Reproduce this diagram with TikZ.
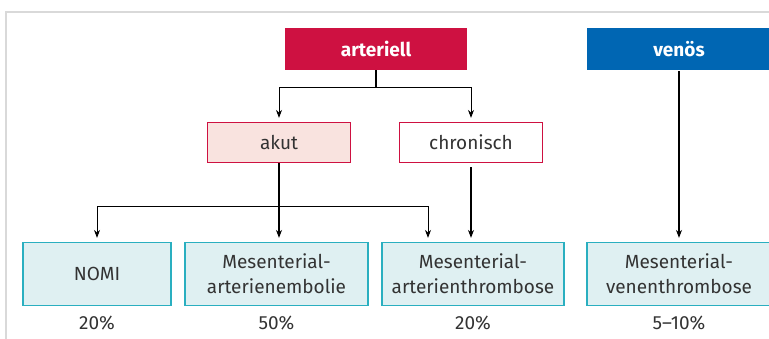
\documentclass[tikz,border=0pt]{standalone}
\usepackage{fontspec}
\setmainfont{Fira Sans}
\usetikzlibrary{positioning, arrows.meta}

\definecolor{artred}{HTML}{CE1141}
\definecolor{venblue}{HTML}{0066B3}
\definecolor{akutfill}{HTML}{F9E3DF}
\definecolor{formfill}{HTML}{DFF0F2}
\definecolor{formline}{HTML}{2AAFC0}
\definecolor{framegray}{HTML}{D9D9D9}
\definecolor{textgray}{HTML}{333333}

\tikzset{
  head/.style={fill=#1, text=white, font=\fontsize{19}{22}\selectfont\bfseries,
    minimum width=182pt, minimum height=42pt, inner sep=0pt},
  phase/.style={draw=artred, line width=1.2pt, text=textgray, font=\fontsize{19}{22}\selectfont,
    minimum width=143pt, minimum height=40pt, inner sep=0pt},
  form/.style={draw=formline, line width=1.2pt, fill=formfill, text=textgray,
    font=\fontsize{19}{25}\selectfont, align=center,
    minimum height=63pt, inner sep=0pt},
  share/.style={text=textgray, font=\fontsize{19}{22}\selectfont, inner sep=0pt},
  thin/.style={line width=0.9pt, -{Stealth[length=8pt,width=6pt]}},
  thick/.style={line width=1.8pt, -{Stealth[length=8pt,width=6pt]}}
}

\begin{document}
\begin{tikzpicture}[x=1pt, y=-1pt]
    \useasboundingbox (0,0) rectangle (769,338);
    \clip (0,0) rectangle (769,338);
    \draw[framegray, line width=1.5pt] (6,12) rectangle (790,360);

    % Kategorien
    \node[head=artred] (art) at (376,49) {arteriell};
    \node[head=venblue, minimum width=184pt] (ven) at (679,49) {venös};

    \node[phase, fill=akutfill] (akut) at (279,142.5) {akut};
    \node[phase, fill=white] (chron) at (471,142.5) {chronisch};

    % Formen
    \node[form, minimum width=148pt] (nomi) at (97,274) {NOMI};
    \node[form, minimum width=183pt] (emb) at (276.5,274) {Mesenterial-\\arterienembolie};
    \node[form, minimum width=182pt] (thr) at (473,274) {Mesenterial-\\arterienthrombose};
    \node[form, minimum width=184pt] (vthr) at (679,274) {Mesenterial-\\venenthrombose};

    \node[share, below=10pt of nomi] (pnomi) {20\%};
    \node[share, below=10pt of emb] (pemb) {50\%};
    \node[share, below=10pt of thr] (pthr) {20\%};
    \node[share, below=10pt of vthr] (pvthr) {5–10\%};

    % Verbindungen
    \coordinate (artfork) at (376,87);
    \coordinate (akutfork) at (279,206);
    \draw[line width=1.8pt] (art.south) -- (artfork);
    \draw[thin, shorten >=4pt] (artfork) -| (akut.north);
    \draw[thin, shorten >=4pt] (artfork) -| (chron.north);

    \draw[thick, shorten >=4pt] (akut.south) -- (emb.north -| akut.south);
    \draw[thin, shorten >=4pt] (akutfork) -| (nomi.north);
    \draw[thin, shorten >=4pt] (akutfork) -| ([xshift=-45pt]thr.north);
    \draw[thick, shorten <=4pt, shorten >=4pt] (chron.south) -- (thr.north -| chron.south);
    \draw[thick, shorten <=1pt, shorten >=4pt] (ven.south) -- (vthr.north);
\end{tikzpicture}
\end{document}
